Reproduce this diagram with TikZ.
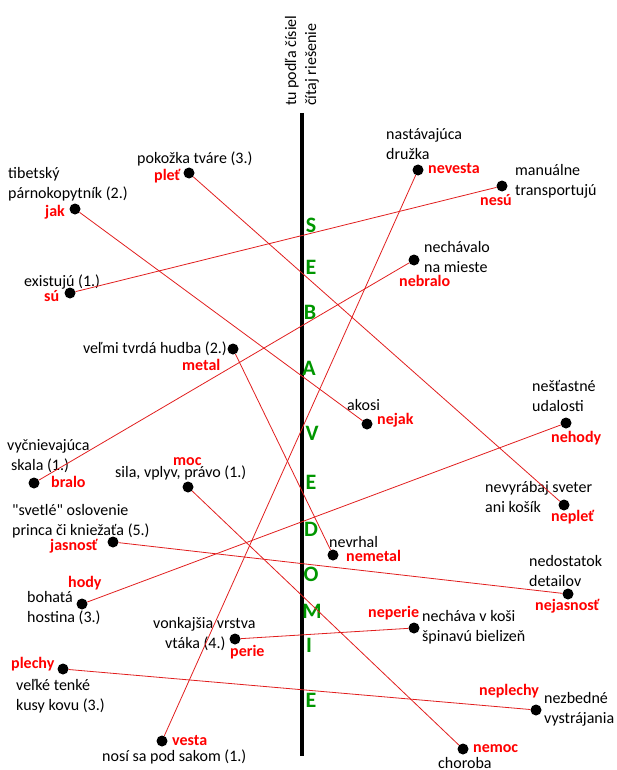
\documentclass[tikz,border=0pt]{standalone}
\usepackage{fontspec}
\setmainfont{Carlito}
\usepackage{xcolor}
\usepackage{tikz}
\usetikzlibrary{positioning}
\definecolor{wordred}{RGB}{255, 0, 0}
\definecolor{linkred}{RGB}{225, 30, 30}
\definecolor{lettergreen}{RGB}{0, 150, 0}
\tikzset{
    hint/.style={
        font=\fontsize{16}{20}\selectfont,
        inner sep=0pt,
        text height=12pt,
        text depth=4pt,
        align=left,
        anchor=west
    },
    word/.style={
        font=\fontsize{16}{20}\selectfont\bfseries,
        text=wordred,
        inner sep=0pt,
        text height=12pt,
        text depth=4pt,
        anchor=west
    },
    dot/.style={
        circle,
        fill=black,
        minimum size=11pt,
        inner sep=0pt
    },
    letter/.style={
        font=\fontsize{22}{24}\selectfont\bfseries,
        text=lettergreen,
        inner sep=0pt
    },
    link/.style={
        draw=linkred,
        line width=0.8pt
    },
    spine/.style={
        draw=black,
        line width=3.6pt
    }
}

\begin{document}
\begin{tikzpicture}[x=1pt, y=-1pt]
        \useasboundingbox (0,0) rectangle (617,770);
        % the solution column in the middle
        \coordinate (top) at (302,113);
        \coordinate (bot) at (302,756);
        \draw[spine] (top) -- (bot);
        \node[hint, rotate=90] (note) at (312,106) {tu podľa čísiel\\čítaj riešenie};

        \node[letter] (s1)  at (311,225) {S};
        \node[letter] (e1)  at (311,267) {E};
        \node[letter] (b1)  at (310,312) {B};
        \node[letter] (a1)  at (309,368) {A};
        \node[letter] (v1)  at (312,433) {V};
        \node[letter] (e2)  at (311,482) {E};
        \node[letter] (d1)  at (311,529) {D};
        \node[letter] (o1)  at (311,574) {O};
        \node[letter] (m1)  at (312,611) {M};
        \node[letter] (i1)  at (309,645) {I};
        \node[letter] (e3)  at (311,700) {E};

        % left-hand words
        \node[dot] (plet)    at (189,173) {};
        \node[word] (plet-w) at (154,176) {pleť};
        \node[hint] (plet-h) at (137,160) {pokožka tváre (3.)};

        \node[dot] (jak)    at (75,209) {};
        \node[word] (jak-w) at (45,212) {jak};
        \node[hint] (jak-h) at (8,194) {tibetský\\párnokopytník (2.)};

        \node[dot] (su)    at (70,293) {};
        \node[word] (su-w) at (44,297) {sú};
        \node[hint] (su-h) at (24,282) {existujú (1.)};

        \node[dot] (metal)    at (233,349) {};
        \node[word] (metal-w) at (182,366) {metal};
        \node[hint, anchor=east] (metal-h) at (227,349) {veľmi tvrdá hudba (2.)};

        \node[dot] (bralo)    at (34,483) {};
        \node[word] (bralo-w) at (51,483) {bralo};
        \node[hint] (bralo-h) at (7,466) {vyčnievajúca\\\hspace{4pt}skala (1.)};

        \node[dot] (moc)    at (188,487) {};
        \node[word] (moc-w) at (173,461) {moc};
        \node[hint] (moc-h) at (115,473) {sila, vplyv, právo (1.)};

        \node[dot] (jasnost)    at (113,542) {};
        \node[word] (jasnost-w) at (50,546) {jasnosť};
        \node[hint] (jasnost-h) at (12,531) {\textquotedbl svetlé\textquotedbl{} oslovenie\\princa či kniežaťa (5.)};

        \node[dot] (hody)    at (82,604) {};
        \node[word] (hody-w) at (68,583) {hody};
        \node[hint] (hody-h) at (27,618) {bohatá\\hostina (3.)};

        \node[dot] (perie)    at (235,639) {};
        \node[word] (perie-w) at (230,652) {perie};
        \node[hint] (perie-h) at (153,644) {vonkajšia vrstva\\\hspace{12pt}vtáka (4.)};

        \node[dot] (plechy)    at (63,669) {};
        \node[word] (plechy-w) at (11,664) {plechy};
        \node[hint] (plechy-h) at (16,706) {veľké tenké\\kusy kovu (3.)};

        \node[dot] (vesta)    at (162,741) {};
        \node[word] (vesta-w) at (172,741) {vesta};
        \node[hint] (vesta-h) at (102,757) {nosí sa pod sakom (1.)};

        % right-hand words with the prefix ne-
        \node[dot] (nevesta)    at (418,170) {};
        \node[word] (nevesta-w) at (428,170) {nevesta};
        \node[hint] (nevesta-h) at (386,156) {nastávajúca\\družka};

        \node[dot] (nesu)    at (502,186) {};
        \node[word] (nesu-w) at (480,201) {nesú};
        \node[hint] (nesu-h) at (515,191) {manuálne\\transportujú};

        \node[dot] (nebralo)    at (414,260) {};
        \node[word] (nebralo-w) at (399,282) {nebralo};
        \node[hint] (nebralo-h) at (424,268) {nechávalo\\na mieste};

        \node[dot] (nejak)    at (367,424) {};
        \node[word] (nejak-w) at (377,420) {nejak};
        \node[hint] (nejak-h) at (347,406) {akosi};

        \node[dot] (nehody)    at (566,423) {};
        \node[word] (nehody-w) at (551,438) {nehody};
        \node[hint] (nehody-h) at (532,407) {nešťastné\\udalosti};

        \node[dot] (neplet)    at (564,505) {};
        \node[word] (neplet-w) at (551,517) {nepleť};
        \node[hint] (neplet-h) at (485,508) {nevyrábaj sveter\\ani košík};

        \node[dot] (nemetal)    at (333,555) {};
        \node[word] (nemetal-w) at (346,557) {nemetal};
        \node[hint] (nemetal-h) at (329,543) {nevrhal};

        \node[dot] (nejasnost)    at (568,594) {};
        \node[word] (nejasnost-w) at (535,606) {nejasnosť};
        \node[hint] (nejasnost-h) at (529,582) {nedostatok\\detailov};

        \node[dot] (neperie)    at (414,628) {};
        \node[word] (neperie-w) at (368,613) {neperie};
        \node[hint] (neperie-h) at (422,637) {necháva v koši\\špinavú bielizeň};

        \node[dot] (neplechy)    at (536,710) {};
        \node[word] (neplechy-w) at (479,691) {neplechy};
        \node[hint] (neplechy-h) at (544,719) {nezbedné\\vystrájania};

        \node[dot] (nemoc)    at (463,749) {};
        \node[word] (nemoc-w) at (473,748) {nemoc};
        \node[hint] (nemoc-h) at (438,764) {choroba};

        % each word is joined to its ne- partner
        \path[link]
            (jak)     edge (nejak)
            (plet)    edge (neplet)
            (su)      edge (nesu)
            (bralo)   edge (nebralo)
            (metal)   edge (nemetal)
            (hody)    edge (nehody)
            (moc)     edge (nemoc)
            (jasnost) edge (nejasnost)
            (perie)   edge (neperie)
            (plechy)  edge (neplechy)
            (vesta)   edge (nevesta);
    \end{tikzpicture}
\end{document}
